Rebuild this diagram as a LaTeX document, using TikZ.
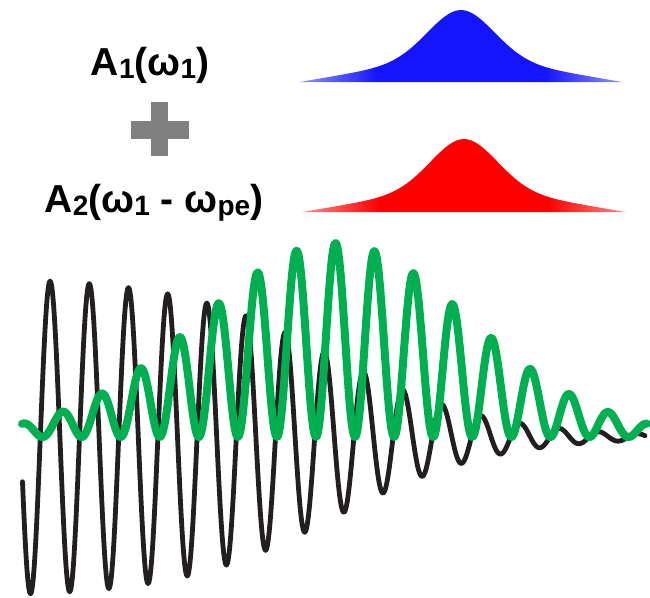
\documentclass[tikz,border=0pt]{standalone}
\usepackage{fontspec}
\setmainfont{Liberation Sans}
\definecolor{pblue}{HTML}{1414FF}
\definecolor{pred}{HTML}{FF0000}
\definecolor{pgreen}{HTML}{00B050}
\definecolor{pblack}{HTML}{231F20}
\definecolor{pgray}{HTML}{808080}
\pgfdeclarehorizontalshading{blueprof}{100bp}{color(0bp)=(pblue!45!white); color(25bp)=(pblue!45!white); color(37bp)=(pblue); color(63bp)=(pblue); color(75bp)=(pblue!45!white); color(100bp)=(pblue!45!white)}
\pgfdeclarehorizontalshading{redprof}{100bp}{color(0bp)=(pred!45!white); color(25bp)=(pred!45!white); color(37bp)=(pred); color(63bp)=(pred); color(75bp)=(pred!45!white); color(100bp)=(pred!45!white)}
\newcommand{\sbs}[1]{\raisebox{-3pt}{\fontsize{28}{28}\selectfont #1}}
\tikzset{
  lbl/.style={anchor=base, inner sep=0pt, font=\fontsize{39}{40}\selectfont\bfseries},
  blackwave/.style={draw=pblack, line width=4.8pt, line cap=round, line join=round},
  greenwave/.style={draw=pgreen, line width=8pt, line cap=round, line join=round},
  plusbar/.style={fill=pgray}
}
\begin{document}
\begin{tikzpicture}[x=1pt,y=-1pt]
\useasboundingbox (0,0) rectangle (650,597);
% labels
\node[lbl] (lblA) at (150,75) {A\sbs{1}(ω\sbs{1})};
\node[lbl] (lblB) at (154,212) {A\sbs{2}(ω\sbs{1} - ω\sbs{pe})};
% plus sign
\fill[plusbar] (150.5,102) rectangle (167.5,156);
\fill[plusbar] (130.5,120.5) rectangle (188.5,138.5);
% spectra
\shade[shading=blueprof] plot[domain=-162:162, samples=160]
  ({461+\x},{82-(46.5*exp(-(\x/47)*(\x/47))+28*max(0,1-10*sqrt((\x/10)*(\x/10)+2.25)/162))}) -- cycle;
\shade[shading=redprof] plot[domain=-162:162, samples=160]
  ({464+\x},{212-(47.5*exp(-(\x/47)*(\x/47))+28*max(0,1-10*sqrt((\x/10)*(\x/10)+2.25)/162))}) -- cycle;
% waves
\draw[blackwave] plot[domain=22.5:645, samples=700]
  ({\x},{437 + 160/(1+exp((\x-335)/78))*cos(9.18367*(\x-30.5))});
\draw[greenwave] plot[domain=22:647, samples=700]
  ({\x},{437 - 97*exp(-((\x-335)/191)*((\x-335)/191))*(1+cos(9.21423*(\x-62)))});
\end{tikzpicture}
\end{document}
